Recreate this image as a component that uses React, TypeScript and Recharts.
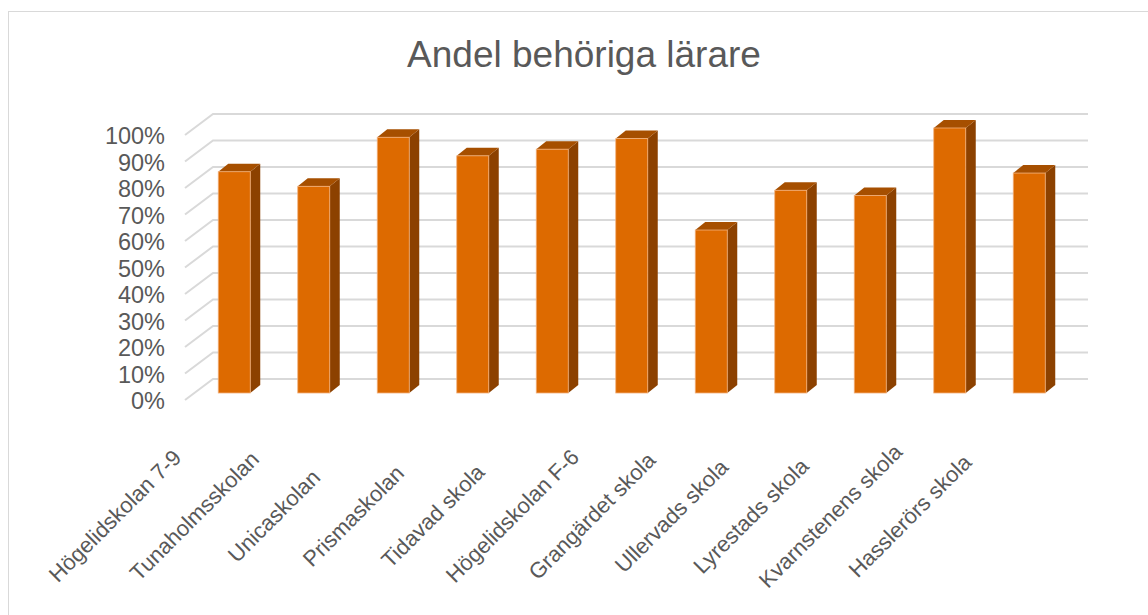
import React from 'react';
import { BarChart, Bar, XAxis, YAxis, CartesianGrid } from 'recharts';

const schools = [
  'Högelidskolan 7-9',
  'Tunaholmsskolan',
  'Unicaskolan',
  'Prismaskolan',
  'Tidavad skola',
  'Högelidskolan F-6',
  'Grangärdet skola',
  'Ullervads skola',
  'Lyrestads skola',
  'Kvarnstenens skola',
  'Hasslerörs skola',
];
const shares = [0.835, 0.78, 0.965, 0.895, 0.92, 0.96, 0.615, 0.765, 0.745, 1.0, 0.83];
const yTicks = [0, 0.1, 0.2, 0.3, 0.4, 0.5, 0.6, 0.7, 0.8, 0.9, 1];

const data = schools.map((name, i) => ({ name, value: shares[i] }));

const FONT = '"Liberation Sans", Arial, sans-serif';
const TEXT = '#595959';
const GRID = '#d9d9d9';
const DX = 10;
const DY = 8;

// fake 3d column: front, side and top faces
const Column3D = (props: any) => {
  const { x, y, width, height } = props;
  if (height == null || height <= 0) return null;
  const r = x + width;
  const b = y + height;
  return (
    <g>
      <polygon
        points={`${r},${y} ${r + DX},${y - DY} ${r + DX},${b - DY} ${r},${b}`}
        fill="#8c4100"
      />
      <polygon
        points={`${x},${y} ${x + DX},${y - DY} ${r + DX},${y - DY} ${r},${y}`}
        fill="#a64f00"
      />
      <rect x={x} y={y} width={width} height={height} fill="#dd6a00" stroke="#f2b07a" strokeWidth={0.8} />
    </g>
  );
};

const gridLine = (props: any) => {
  const { x1, x2, y1, key } = props;
  const d = `M${x1 - 9.25},${y1 + 7} L${x1 + 18.75},${y1 - 14} L${x2 + 19.25},${y1 - 14}`;
  return <path key={key} d={d} stroke={GRID} strokeWidth={2} fill="none" />;
};

const YTick = (props: any) => {
  const { y, payload } = props;
  return (
    <text x={165} y={y + 8} textAnchor="end" dominantBaseline="central" fontSize={23.5} fontFamily={FONT} fill={TEXT}>
      {`${Math.round(payload.value * 100)}%`}
    </text>
  );
};

const XTick = (props: any) => {
  const { x, payload } = props;
  const cx = x - 119;
  const cy = 516;
  return (
    <text
      x={cx}
      y={cy}
      textAnchor="middle"
      dominantBaseline="central"
      transform={`rotate(-45 ${cx} ${cy})`}
      fontSize={22}
      fontFamily={FONT}
      fill={TEXT}
    >
      {payload.value}
    </text>
  );
};

export default function App() {
  return (
    <div style={{ position: 'fixed', left: 0, top: 0, width: 1148, height: 615, background: '#fff', overflow: 'hidden' }}>
      <div
        style={{
          position: 'absolute',
          left: 8,
          top: 11,
          width: 1160,
          height: 640,
          border: `1.5px solid ${GRID}`,
          boxSizing: 'border-box',
        }}
      />
      <div
        style={{
          position: 'absolute',
          left: 0,
          top: 36,
          width: 1168,
          textAlign: 'center',
          fontFamily: FONT,
          fontSize: 37,
          color: TEXT,
          lineHeight: '37px',
        }}
      >
        Andel behöriga lärare
      </div>
      <div style={{ position: 'absolute', left: 0, top: 0 }}>
        <BarChart
          width={1148}
          height={615}
          data={data}
          margin={{ top: 128, right: 79.25, bottom: 192, left: 134.25 }}
          barSize={32}
        >
          <CartesianGrid vertical={false} horizontal={gridLine} />
          <XAxis
            dataKey="name"
            axisLine={false}
            tickLine={false}
            interval={0}
            tick={<XTick />}
            height={30}
          />
          <YAxis
            domain={[0, 1]}
            ticks={yTicks}
            axisLine={false}
            tickLine={false}
            tick={<YTick />}
            width={60}
          />
          <Bar dataKey="value" shape={<Column3D />} isAnimationActive={false} />
        </BarChart>
      </div>
    </div>
  );
}
